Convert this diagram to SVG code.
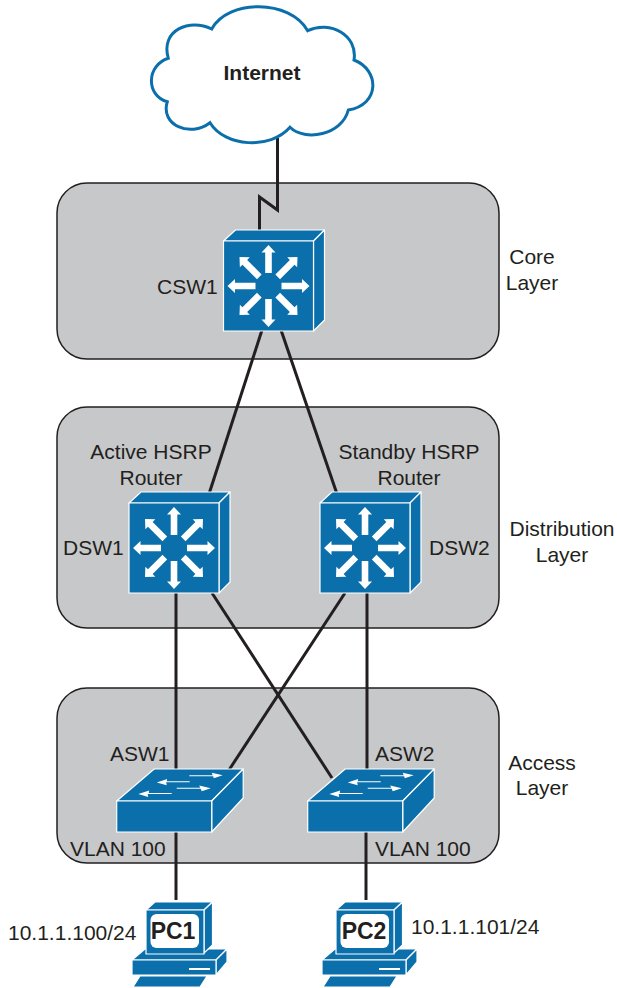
<svg xmlns="http://www.w3.org/2000/svg" xmlns:xlink="http://www.w3.org/1999/xlink" width="617" height="988" viewBox="0 0 617 988">
<style>
text{font-family:"Liberation Sans",Arial,sans-serif;font-size:21px;fill:#231f20}
.m{text-anchor:middle}
.b{font-weight:bold}
.pt{font-size:23px;font-weight:bold}
.panel{fill:#c7c8ca;stroke:#231f20;stroke-width:1.5}
.ln{fill:none;stroke:#231f20;stroke-width:3}
.bl{fill:#0a6fab;stroke:#fff;stroke-width:1.2;stroke-linejoin:round}
.w{fill:#fff;stroke:none}
</style>
<defs>
<path id="arm" class="w" d="M13 -3.300 H33.500 V-7 L41 0 L33.500 7 V3.300 H13 Z"/>
<g id="l3">
<path class="bl" d="M0 0 L12 -11 H101 L90 0 Z"/>
<path class="bl" d="M90 0 L101 -11 V79 L90 90 Z"/>
<rect class="bl" x="0" y="0" width="90" height="90"/>
<g transform="translate(45 45)">
<use xlink:href="#arm"/><use xlink:href="#arm" transform="rotate(45)"/><use xlink:href="#arm" transform="rotate(90)"/><use xlink:href="#arm" transform="rotate(135)"/><use xlink:href="#arm" transform="rotate(180)"/><use xlink:href="#arm" transform="rotate(225)"/><use xlink:href="#arm" transform="rotate(270)"/><use xlink:href="#arm" transform="rotate(315)"/>
</g>
</g>
<g id="sw">
<path class="bl" d="M0 32 L37.500 0 H126.500 L95 32 Z"/>
<path class="bl" d="M95 32 L126.500 0 V29 L95 63 Z"/>
<rect class="bl" x="0" y="32" width="95" height="31"/>
<path class="w" d="M72.600 6.200 H96 L95 3.800 L106 6.200 L97 9.300 L96.500 7.200 H72.600 Z"/>
<path class="w" d="M60 18.800 H83.500 L82.500 16.400 L94 19.300 L85 22.300 L84 19.800 H60 Z"/>
<path class="w" d="M73 12.300 H50 L50.500 10 L40 13.500 L50 16.300 L49.500 13.300 H73 Z"/>
<path class="w" d="M55 24 H32 L32.500 21.600 L21.600 25 L31.500 28 L31 25 H55 Z"/>
</g>
<g id="pc">
<path class="bl" d="M13 47 H95 L84 58 H0 Z"/>
<path class="bl" d="M84 58 L95 47 V60 L84 73 Z"/>
<rect class="bl" x="0" y="58" width="84" height="15"/>
<path class="bl" d="M14 8 L23 0 H80.500 L72 8 Z"/>
<path class="bl" d="M72 8 L80.500 0 V43 L72 51 Z"/>
<rect class="bl" x="14" y="8" width="58" height="44"/>
<rect class="w" x="18.500" y="12" width="48.500" height="34" rx="6"/>
<rect class="w" x="57" y="66" width="21" height="2"/>
<path class="bl" d="M8 74 H75 L68 85 H1 Z"/>
</g>
</defs>

<rect class="panel" x="57" y="183" width="442" height="176" rx="30"/>
<rect class="panel" x="57" y="407" width="442" height="221" rx="30"/>
<rect class="panel" x="57" y="688" width="442" height="175" rx="30"/>

<g id="connectors">
<path class="ln" d="M277.500 138 V210 L259.500 197 V231"/>
<path class="ln" d="M262 330 L209 494"/>
<path class="ln" d="M281 330 L337 494"/>
<path class="ln" d="M176 593 V771"/>
<path class="ln" d="M176 832 V900"/>
<path class="ln" d="M212 593 L332 778"/>
<path class="ln" d="M345 593 L229 770"/>
<path class="ln" d="M367 593 V771"/>
<path class="ln" d="M366 832 V900"/>
</g>

<g id="internet">
<path d="M211.700 29 C228 -1 290 -1 307.700 30.700 C330 20 358 35 354 60 C380 70 380 105 348.300 110 C342 135 305 142 290 127.300 C270 150 225 147 210 122.700 C190 138 160 125 167.300 101.700 C145 95 147 65 168.300 58.300 C160 30 190 18 211.700 29 Z" fill="#fff" stroke="#0a6fab" stroke-width="3"/>
<text class="m b" x="262" y="80">Internet</text>
</g>

<g id="csw1"><use xlink:href="#l3" x="223.500" y="241"/><text x="157" y="294">CSW1</text></g>
<g id="dsw1"><use xlink:href="#l3" x="129" y="503"/><text x="63" y="555">DSW1</text>
<text class="m" x="151" y="459">Active HSRP</text><text class="m" x="151" y="485">Router</text></g>
<g id="dsw2"><use xlink:href="#l3" x="320" y="503"/><text x="429" y="555">DSW2</text>
<text class="m" x="409" y="459">Standby HSRP</text><text class="m" x="409" y="485">Router</text></g>
<g id="asw1"><use xlink:href="#sw" x="116.700" y="769"/><text x="110" y="761">ASW1</text><text x="70" y="856">VLAN 100</text></g>
<g id="asw2"><use xlink:href="#sw" x="307.700" y="769"/><text x="375" y="761">ASW2</text><text x="375" y="856">VLAN 100</text></g>
<g id="pc1"><use xlink:href="#pc" x="132" y="902"/><text class="m pt" x="173" y="939">PC1</text><text x="8" y="940">10.1.1.100/24</text></g>
<g id="pc2"><use xlink:href="#pc" x="322" y="902"/><text class="m pt" x="364" y="939">PC2</text><text x="411" y="934">10.1.1.101/24</text></g>

<g id="layers">
<text class="m" x="532" y="264">Core</text><text class="m" x="532" y="290">Layer</text>
<text class="m" x="562" y="536">Distribution</text><text class="m" x="562" y="562">Layer</text>
<text class="m" x="542" y="770">Access</text><text class="m" x="542" y="795">Layer</text>
</g>
</svg>
